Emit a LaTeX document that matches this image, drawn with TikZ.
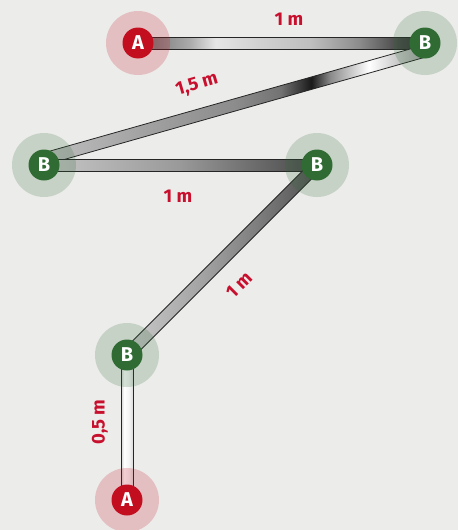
\documentclass[tikz,border=0pt]{standalone}
\usepackage{fontspec}
\setmainfont{Fira Sans}
\usetikzlibrary{calc}
\definecolor{bg}{HTML}{ECECEA}
\definecolor{ared}{HTML}{C20E1F}
\definecolor{bgreen}{HTML}{2F6B33}
\definecolor{lblred}{HTML}{C8102E}
\pgfdeclarehorizontalshading{barone}{100bp}{color(0bp)=(black!45); color(25bp)=(black!45); color(28bp)=(black!50); color(34bp)=(black!33); color(38.5bp)=(black!10); color(46bp)=(black!18); color(55bp)=(black!25); color(63.5bp)=(black!45); color(70.5bp)=(black!72); color(75bp)=(black!80); color(100bp)=(black!80)}
\pgfdeclarehorizontalshading{bartwo}{100bp}{color(0bp)=(black!25); color(25bp)=(black!25); color(40bp)=(black!38); color(50bp)=(black!45); color(56bp)=(black!55); color(60bp)=(black!90); color(62.5bp)=(black!45); color(67.5bp)=(white); color(71bp)=(black!20); color(75bp)=(black!38); color(100bp)=(black!38)}
\pgfdeclarehorizontalshading{barthree}{100bp}{color(0bp)=(black!22); color(25bp)=(black!22); color(50bp)=(black!40); color(67bp)=(black!62); color(75bp)=(black!72); color(100bp)=(black!72)}
\pgfdeclarehorizontalshading{barfour}{100bp}{color(0bp)=(black!20); color(25bp)=(black!20); color(45bp)=(black!36); color(60bp)=(black!52); color(75bp)=(black!70); color(100bp)=(black!70)}
\pgfdeclarehorizontalshading{barfive}{100bp}{color(0bp)=(black!18); color(25bp)=(black!18); color(38bp)=(white); color(60bp)=(black!5); color(75bp)=(black!15); color(100bp)=(black!15)}
\newcommand\drawbar[3]{%
  \path let \p1=($(#2)-(#1)$), \n1={atan2(\y1,\x1)}, \n2={veclen(\x1,\y1)} in
    node[barnode, shading=#3, rotate=\n1, minimum width=\n2] at ($(#1)!0.5!(#2)$) {};}
\begin{document}
\begin{tikzpicture}[x=1pt,y=-1pt,
  barnode/.style={rectangle, inner sep=0pt, minimum height=12pt, draw=black!85, line width=0.8pt},
  anode/.style={circle, fill=ared, text=white, minimum size=31pt, inner sep=0pt, font=\bfseries\fontsize{20}{20}\selectfont},
  bnode/.style={anode, fill=bgreen},
  ahalo/.style={fill=ared, opacity=0.2},
  bhalo/.style={fill=bgreen, opacity=0.2},
  lbl/.style={text=lblred, inner sep=0pt, font=\bfseries\fontsize{18.5}{18.5}\selectfont}]
\fill[bg] (0,0) rectangle (458,530);
\useasboundingbox (0,0) rectangle (458,530);
\coordinate (pa1) at (138,43);
\coordinate (pb1) at (425,43);
\coordinate (pb2) at (44,165);
\coordinate (pb3) at (317,165);
\coordinate (pb4) at (127,355);
\coordinate (pa2) at (127,500);
\coordinate (e2s) at (44,159);
\coordinate (e2e) at (425,51);
% bars
\drawbar{pa1}{pb1}{barone}
\drawbar{e2s}{e2e}{bartwo}
\drawbar{pb2}{pb3}{barthree}
\drawbar{pb3}{pb4}{barfour}
\drawbar{pb4}{pa2}{barfive}
% halos
\fill[ahalo] (pa1) circle (32);
\fill[bhalo] (pb1) circle (32);
\fill[bhalo] (pb2) circle (32);
\fill[bhalo] (pb3) circle (32);
\fill[bhalo] (pb4) circle (32);
\fill[ahalo] (pa2) circle (32);
% nodes
\node[anode] (a1) at (pa1) {A};
\node[bnode] (b1) at (pb1) {B};
\node[bnode] (b2) at (pb2) {B};
\node[bnode] (b3) at (pb3) {B};
\node[bnode] (b4) at (pb4) {B};
\node[anode] (a2) at (pa2) {A};
% labels
\node[lbl] (l1) at (289,19) {1 m};
\node[lbl, rotate=16] (l2) at (197,85) {1,5 m};
\node[lbl] (l3) at (178,196) {1 m};
\node[lbl, rotate=45] (l4) at (239,285) {1 m};
\node[lbl, rotate=90] (l5) at (100,422) {0,5 m};
\end{tikzpicture}
\end{document}
